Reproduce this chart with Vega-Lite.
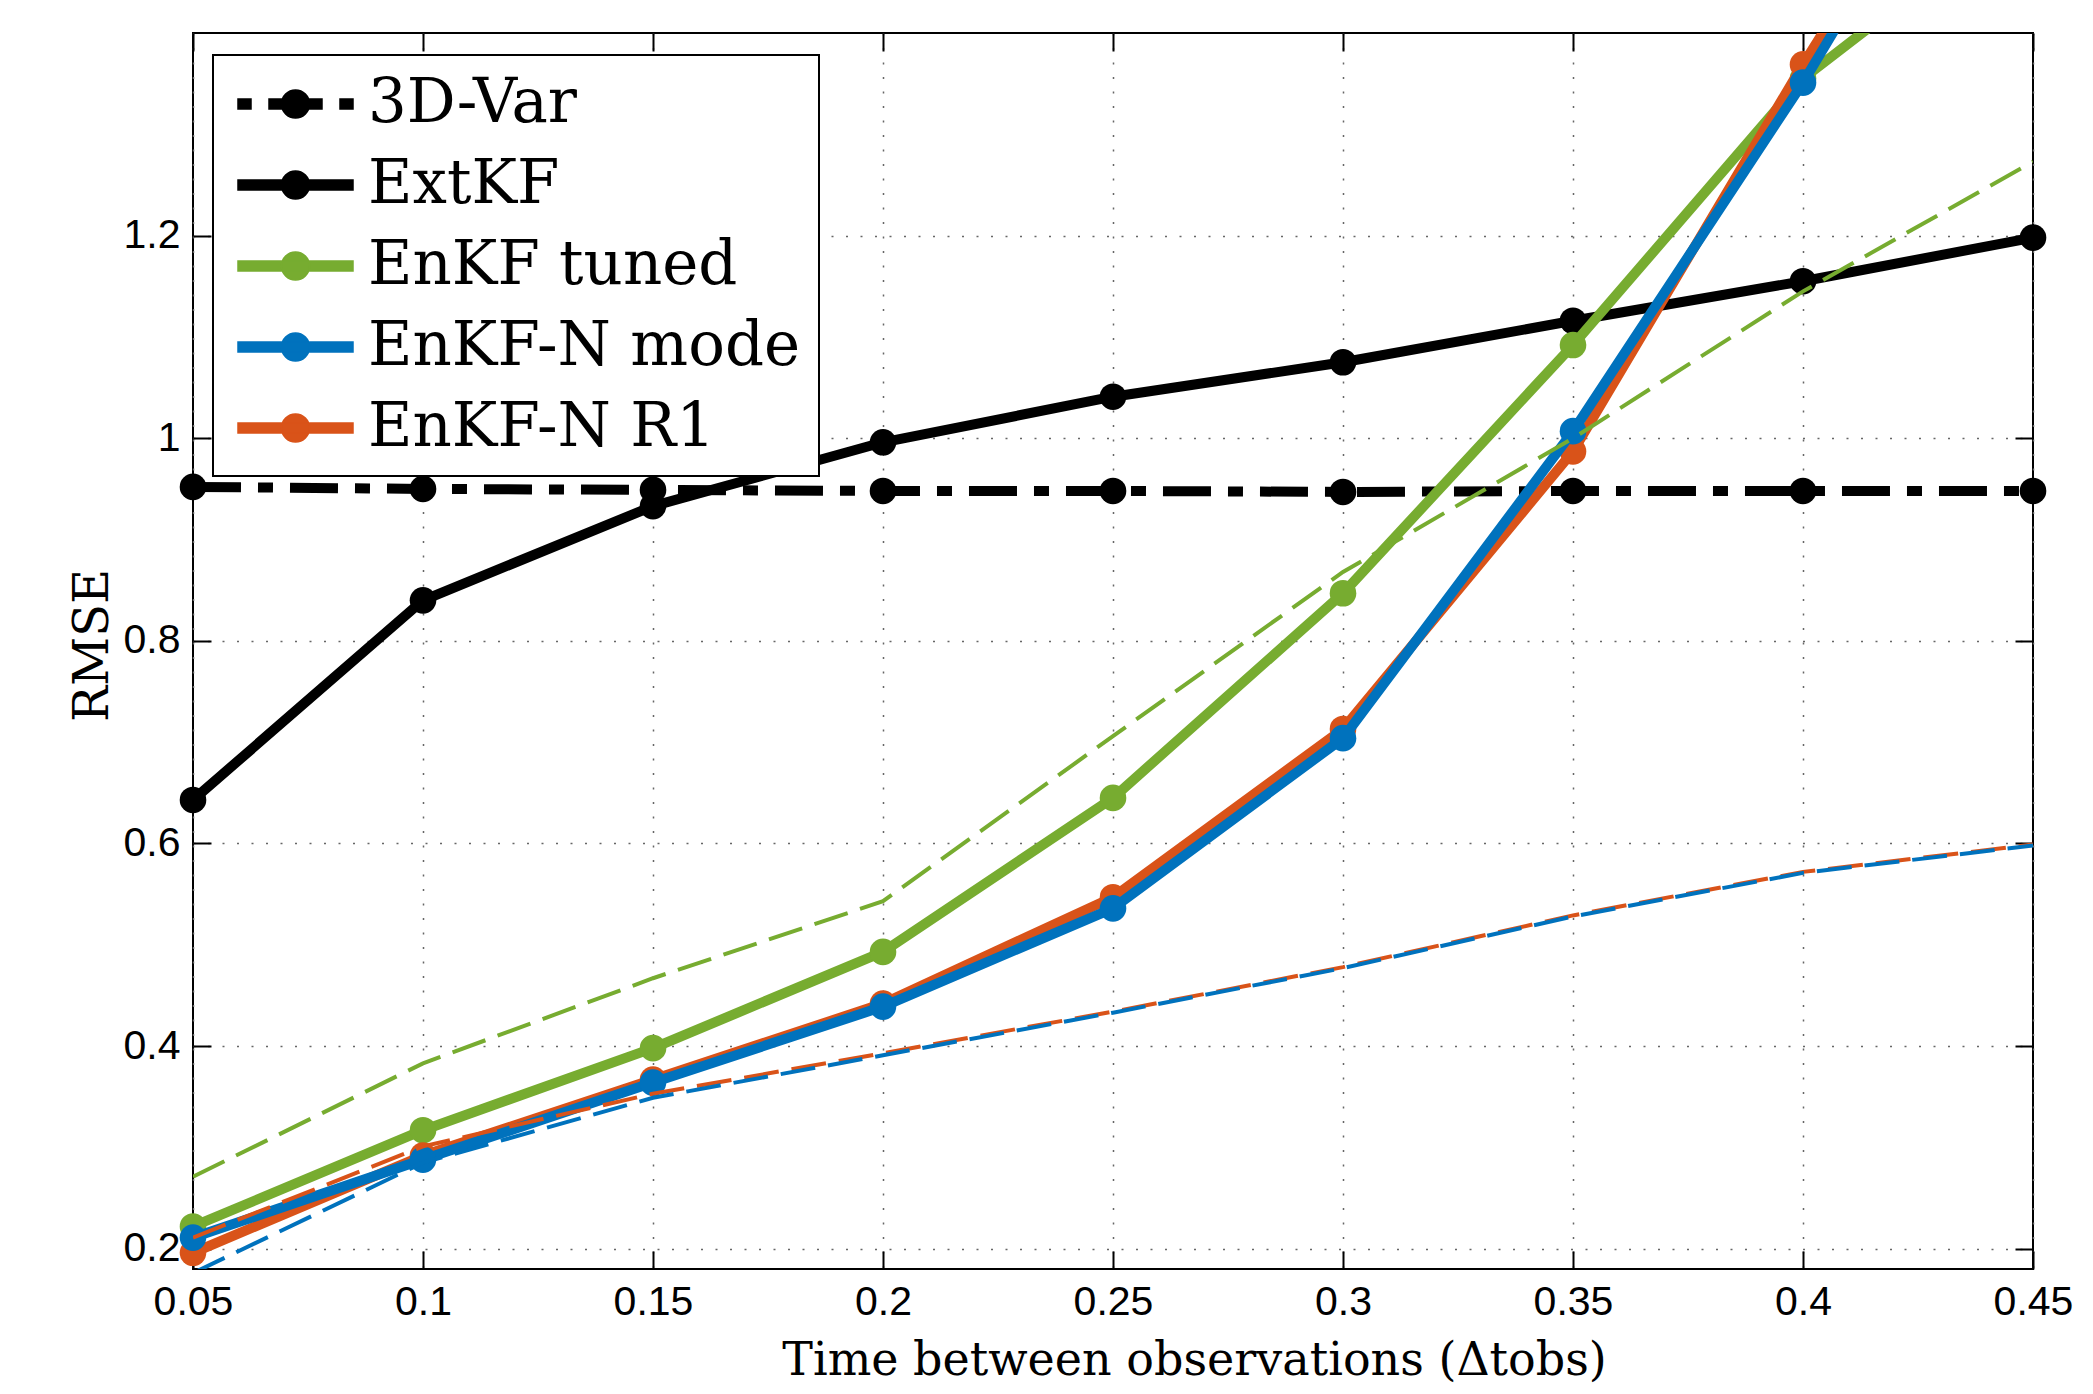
{
  "$schema": "https://vega.github.io/schema/vega-lite/v6.json",
  "width": 1840,
  "height": 1236,
  "autosize": {"type": "none"},
  "padding": {"left": 193, "top": 33, "right": 60, "bottom": 125},
  "background": "white",
  "datasets": {
    "rmse": [
      {"s": "3D-Var", "x": 0.05, "v": 0.952}, {"s": "3D-Var", "x": 0.1, "v": 0.950}, {"s": "3D-Var", "x": 0.15, "v": 0.949},
      {"s": "3D-Var", "x": 0.2, "v": 0.948}, {"s": "3D-Var", "x": 0.25, "v": 0.948}, {"s": "3D-Var", "x": 0.3, "v": 0.947},
      {"s": "3D-Var", "x": 0.35, "v": 0.948}, {"s": "3D-Var", "x": 0.4, "v": 0.948}, {"s": "3D-Var", "x": 0.45, "v": 0.948},
      {"s": "ExtKF", "x": 0.05, "v": 0.643}, {"s": "ExtKF", "x": 0.1, "v": 0.840}, {"s": "ExtKF", "x": 0.15, "v": 0.933},
      {"s": "ExtKF", "x": 0.2, "v": 0.996}, {"s": "ExtKF", "x": 0.25, "v": 1.041}, {"s": "ExtKF", "x": 0.3, "v": 1.075},
      {"s": "ExtKF", "x": 0.35, "v": 1.116}, {"s": "ExtKF", "x": 0.4, "v": 1.155}, {"s": "ExtKF", "x": 0.45, "v": 1.198},
      {"s": "EnKF tuned", "x": 0.05, "v": 0.222}, {"s": "EnKF tuned", "x": 0.1, "v": 0.317}, {"s": "EnKF tuned", "x": 0.15, "v": 0.398},
      {"s": "EnKF tuned", "x": 0.2, "v": 0.493}, {"s": "EnKF tuned", "x": 0.25, "v": 0.645}, {"s": "EnKF tuned", "x": 0.3, "v": 0.847},
      {"s": "EnKF tuned", "x": 0.35, "v": 1.092}, {"s": "EnKF tuned", "x": 0.4, "v": 1.355}, {"s": "EnKF tuned", "x": 0.45, "v": 1.53},
      {"s": "EnKF-N mode", "x": 0.05, "v": 0.211}, {"s": "EnKF-N mode", "x": 0.1, "v": 0.288}, {"s": "EnKF-N mode", "x": 0.15, "v": 0.364},
      {"s": "EnKF-N mode", "x": 0.2, "v": 0.439}, {"s": "EnKF-N mode", "x": 0.25, "v": 0.536}, {"s": "EnKF-N mode", "x": 0.3, "v": 0.704},
      {"s": "EnKF-N mode", "x": 0.35, "v": 1.007}, {"s": "EnKF-N mode", "x": 0.4, "v": 1.351}, {"s": "EnKF-N mode", "x": 0.45, "v": 1.73},
      {"s": "EnKF-N R1", "x": 0.05, "v": 0.196}, {"s": "EnKF-N R1", "x": 0.1, "v": 0.292}, {"s": "EnKF-N R1", "x": 0.15, "v": 0.367},
      {"s": "EnKF-N R1", "x": 0.2, "v": 0.442}, {"s": "EnKF-N R1", "x": 0.25, "v": 0.547}, {"s": "EnKF-N R1", "x": 0.3, "v": 0.713},
      {"s": "EnKF-N R1", "x": 0.35, "v": 0.987}, {"s": "EnKF-N R1", "x": 0.4, "v": 1.369}, {"s": "EnKF-N R1", "x": 0.45, "v": 1.73},
      {"s": "EnKF tuned dashed", "x": 0.05, "v": 0.271}, {"s": "EnKF tuned dashed", "x": 0.1, "v": 0.383}, {"s": "EnKF tuned dashed", "x": 0.15, "v": 0.467},
      {"s": "EnKF tuned dashed", "x": 0.2, "v": 0.543}, {"s": "EnKF tuned dashed", "x": 0.25, "v": 0.706}, {"s": "EnKF tuned dashed", "x": 0.3, "v": 0.868},
      {"s": "EnKF tuned dashed", "x": 0.35, "v": 1.0}, {"s": "EnKF tuned dashed", "x": 0.4, "v": 1.145}, {"s": "EnKF tuned dashed", "x": 0.45, "v": 1.273},
      {"s": "EnKF-N mode dashed", "x": 0.05, "v": 0.176}, {"s": "EnKF-N mode dashed", "x": 0.1, "v": 0.285}, {"s": "EnKF-N mode dashed", "x": 0.15, "v": 0.349},
      {"s": "EnKF-N mode dashed", "x": 0.2, "v": 0.391}, {"s": "EnKF-N mode dashed", "x": 0.25, "v": 0.433}, {"s": "EnKF-N mode dashed", "x": 0.3, "v": 0.477},
      {"s": "EnKF-N mode dashed", "x": 0.35, "v": 0.528}, {"s": "EnKF-N mode dashed", "x": 0.4, "v": 0.571}, {"s": "EnKF-N mode dashed", "x": 0.45, "v": 0.598},
      {"s": "EnKF-N R1 dashed", "x": 0.05, "v": 0.211}, {"s": "EnKF-N R1 dashed", "x": 0.1, "v": 0.301}, {"s": "EnKF-N R1 dashed", "x": 0.15, "v": 0.353},
      {"s": "EnKF-N R1 dashed", "x": 0.2, "v": 0.393}, {"s": "EnKF-N R1 dashed", "x": 0.25, "v": 0.434}, {"s": "EnKF-N R1 dashed", "x": 0.3, "v": 0.478},
      {"s": "EnKF-N R1 dashed", "x": 0.35, "v": 0.529}, {"s": "EnKF-N R1 dashed", "x": 0.4, "v": 0.572}, {"s": "EnKF-N R1 dashed", "x": 0.45, "v": 0.599}
    ]
  },
  "data": {"name": "rmse"},
  "layer": [
    {
      "encoding": {
        "x": {
          "field": "x", "type": "quantitative",
          "scale": {"domain": [0.05, 0.45], "nice": false, "zero": false},
          "axis": {
            "values": [0.05, 0.1, 0.15, 0.2, 0.25, 0.3, 0.35, 0.4, 0.45],
            "format": "~g", "labelPadding": 31, "grid": true,
            "title": "Time between observations (Δtobs)",
            "titleFontSize": 46, "titleX": 1001, "titleY": 105,
            "titleBaseline": "alphabetic", "titleAlign": "center"
          }
        },
        "y": {
          "field": "v", "type": "quantitative",
          "scale": {"domain": [0.18, 1.4], "nice": false, "zero": false},
          "axis": {
            "values": [0.2, 0.4, 0.6, 0.8, 1, 1.2],
            "format": "~g", "labelPadding": 31, "grid": true,
            "title": "RMSE", "titleFontSize": 48, "titleX": -86, "titleY": 612,
            "titleBaseline": "alphabetic", "titleAlign": "center", "titleAngle": -90
          }
        },
        "color": {
          "field": "s", "type": "nominal",
          "scale": {
            "domain": ["3D-Var", "ExtKF", "EnKF tuned", "EnKF-N mode", "EnKF-N R1"],
            "range": ["#000000", "#000000", "#77AC30", "#0072BD", "#D95319"]
          },
          "legend": {
            "title": null, "orient": "none", "legendX": 20, "legendY": 22,
            "padding": 18, "strokeColor": "#000000", "fillColor": "#ffffff",
            "symbolSize": 3600, "symbolOffset": 33.5, "labelOffset": 41.5,
            "labelFont": "DejaVu Serif", "labelFontSize": 61, "labelLimit": 0, "labelColor": "#000000",
            "rowPadding": 20,
            "encode": {
              "symbols": {
                "update": {
                  "shape": {"signal": "datum.value === '3D-Var' ? 'M-1.9167,-0.1667L-1.4833,-0.1667L-1.4833,0.1667L-1.9167,0.1667ZM1.4833,-0.1667L1.9167,-0.1667L1.9167,0.1667L1.4833,0.1667ZM-0.8833,-0.1667L0.8833,-0.1667L0.8833,0.1667L-0.8833,0.1667ZM-0.4667,0A0.4667,0.4667,0,1,1,0.4667,0A0.4667,0.4667,0,1,1,-0.4667,0Z' : 'M-1.9167,-0.1667L1.9167,-0.1667L1.9167,0.1667L-1.9167,0.1667ZM-0.4667,0A0.4667,0.4667,0,1,1,0.4667,0A0.4667,0.4667,0,1,1,-0.4667,0Z'"},
                  "fill": {"scale": "color", "field": "value"},
                  "stroke": {"value": "transparent"},
                  "opacity": {"value": 1}
                }
              }
            }
          }
        }
      },
      "layer": [
        {"transform": [{"filter": "datum.s === '3D-Var'"}],
         "mark": {"type": "line", "clip": true, "strokeWidth": 10, "strokeDash": [48, 17, 15, 17], "strokeCap": "butt", "strokeJoin": "round"}},
        {"transform": [{"filter": "datum.s === '3D-Var' && datum.v <= 1.4"}],
         "mark": {"type": "circle", "size": 707, "opacity": 1}},
        {"transform": [{"filter": "datum.s === 'ExtKF'"}],
         "mark": {"type": "line", "clip": true, "strokeWidth": 10, "strokeJoin": "round"}},
        {"transform": [{"filter": "datum.s === 'ExtKF' && datum.v <= 1.4"}],
         "mark": {"type": "circle", "size": 707, "opacity": 1}},
        {"transform": [{"filter": "datum.s === 'EnKF tuned'"}],
         "mark": {"type": "line", "clip": true, "strokeWidth": 10, "strokeJoin": "round"}},
        {"transform": [{"filter": "datum.s === 'EnKF tuned' && datum.v <= 1.4"}],
         "mark": {"type": "circle", "size": 707, "opacity": 1}},
        {"transform": [{"filter": "datum.s === 'EnKF-N R1'"}],
         "mark": {"type": "line", "clip": true, "strokeWidth": 10, "strokeJoin": "round"}},
        {"transform": [{"filter": "datum.s === 'EnKF-N R1' && datum.v <= 1.4"}],
         "mark": {"type": "circle", "size": 707, "opacity": 1}},
        {"transform": [{"filter": "datum.s === 'EnKF-N mode'"}],
         "mark": {"type": "line", "clip": true, "strokeWidth": 10, "strokeJoin": "round"}},
        {"transform": [{"filter": "datum.s === 'EnKF-N mode' && datum.v <= 1.4"}],
         "mark": {"type": "circle", "size": 707, "opacity": 1}},
        {"transform": [{"filter": "datum.s === 'EnKF tuned dashed'"}],
         "mark": {"type": "line", "clip": true, "strokeWidth": 4, "strokeDash": [35, 13], "strokeCap": "butt"},
         "encoding": {"color": {"value": "#77AC30"}}},
        {"transform": [{"filter": "datum.s === 'EnKF-N R1 dashed'"}],
         "mark": {"type": "line", "clip": true, "strokeWidth": 4, "strokeDash": [35, 13], "strokeCap": "butt"},
         "encoding": {"color": {"value": "#D95319"}}}
      ]
    },
    {
      "transform": [{"filter": "datum.s === 'EnKF-N mode dashed'"}],
      "mark": {"type": "line", "clip": true, "strokeWidth": 4, "strokeDash": [35, 13], "strokeCap": "butt"},
      "encoding": {
        "x": {
          "field": "x", "type": "quantitative",
          "scale": {"domain": [0.05, 0.45], "nice": false, "zero": false},
          "axis": {"orient": "top", "values": [0.05, 0.1, 0.15, 0.2, 0.25, 0.3, 0.35, 0.4, 0.45], "labels": false, "grid": false, "title": null}
        },
        "y": {
          "field": "v", "type": "quantitative",
          "scale": {"domain": [0.18, 1.4], "nice": false, "zero": false},
          "axis": {"orient": "right", "values": [0.2, 0.4, 0.6, 0.8, 1, 1.2], "labels": false, "grid": false, "title": null}
        },
        "color": {"value": "#0072BD"}
      }
    }
  ],
  "resolve": {"axis": {"x": "independent", "y": "independent"}},
  "config": {
    "view": {"stroke": "#000000", "strokeWidth": 2},
    "legend": {"strokeWidth": 2},
    "axis": {
      "domain": false,
      "tickSize": -18, "tickWidth": 2, "tickColor": "#000000",
      "labelFont": "Liberation Sans", "labelFontSize": 41, "labelColor": "#000000",
      "labelFlush": false, "labelOverlap": false,
      "gridDash": [2, 12.5], "gridColor": "#666666", "gridWidth": 1.5, "gridOpacity": 1,
      "titleFont": "DejaVu Serif", "titleFontWeight": "normal", "titleColor": "#000000"
    }
  }
}
